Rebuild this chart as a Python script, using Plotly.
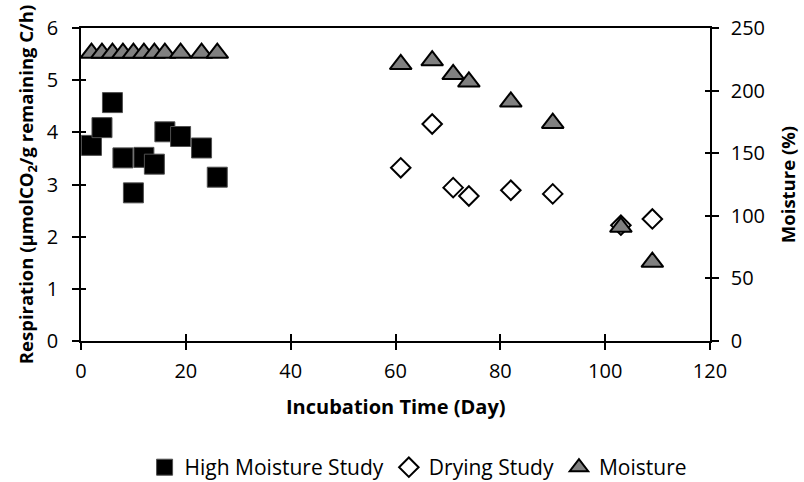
import plotly.graph_objects as go

hm_day = [2, 4, 6, 8, 10, 12, 14, 16, 19, 23, 26]
hm_resp = [3.75, 4.09, 4.57, 3.51, 2.84, 3.52, 3.39, 4.01, 3.92, 3.70, 3.14]

dry_day = [61, 67, 71, 74, 82, 90, 103, 109]
dry_resp = [3.32, 4.16, 2.94, 2.78, 2.89, 2.82, 2.22, 2.34]

moist_day = [2, 4, 6, 8, 10, 12, 14, 16, 19, 23, 26, 61, 67, 71, 74, 82, 90, 103, 109]
moist_pct = [230, 230, 230, 230, 230, 230, 230, 230, 230, 230, 230,
             221, 224, 213, 207, 191, 174, 91, 63]

x_ticks = [0, 20, 40, 60, 80, 100, 120]
y_ticks = [0, 1, 2, 3, 4, 5, 6]
y2_ticks = [0, 50, 100, 150, 200, 250]

x_title = "<b>Incubation Time (Day)</b>"
y_title = "<b>Respiration (µmolCO<sub>2</sub>/g remaining C/h)</b>"
y2_title = "<b>Moisture (%)</b>"

FONT = "Open Sans"
fs = 20
fs_legend = 21
fs_title = 20
fs_ytitle = 18.5

fig = go.Figure()
fig.add_trace(go.Scatter(
    x=hm_day, y=hm_resp, mode="markers", name="High Moisture Study",
    marker=dict(symbol="square", size=20, color="black",
                line=dict(color="#505050", width=1))))
fig.add_trace(go.Scatter(
    x=dry_day, y=dry_resp, mode="markers", name="Drying Study",
    marker=dict(symbol="diamond", size=15, color="white",
                line=dict(color="black", width=2))))
fig.add_trace(go.Scatter(
    x=moist_day, y=moist_pct, mode="markers", name="Moisture", yaxis="y2",
    marker=dict(symbol="triangle-up", size=19, color="#808080",
                line=dict(color="black", width=2))))
# empty helper traces for crossing ticks
fig.add_trace(go.Scatter(x=[], y=[], xaxis="x3", yaxis="y3", showlegend=False, hoverinfo="skip"))
fig.add_trace(go.Scatter(x=[], y=[], xaxis="x3", yaxis="y4", showlegend=False, hoverinfo="skip"))

axis_common = dict(showgrid=False, zeroline=False, linecolor="black", linewidth=1.5,
                   tickcolor="black", tickwidth=1.5, automargin=False,
                   tickfont=dict(family=FONT, size=fs, color="black"))

fig.update_layout(
    width=804, height=482,
    margin=dict(l=81, r=94, t=28, b=141),
    plot_bgcolor="white", paper_bgcolor="white",
    font=dict(family=FONT, size=fs, color="black"),
    showlegend=True,
    legend=dict(orientation="h", x=0.52, xref="container", xanchor="center",
                y=0.03, yref="container", yanchor="middle",
                font=dict(family=FONT, size=fs_legend, color="black"), itemwidth=30,
                traceorder="normal"),
    xaxis=dict(range=[0, 120], tickvals=x_ticks, ticks="outside", ticklen=7,
               ticklabelstandoff=4, showline=True, mirror=True, **axis_common),
    yaxis=dict(range=[0, 6], tickvals=y_ticks, ticks="outside", ticklen=7, showline=True,
               ticklabelstandoff=10,
               title=dict(text=y_title, font=dict(family=FONT, size=fs_ytitle), standoff=8),
               **axis_common),
    yaxis2=dict(range=[0, 250], tickvals=y2_ticks, ticks="outside", ticklen=7, showline=True,
                overlaying="y", side="right", anchor="x", ticklabelstandoff=8,
                title=dict(text=y2_title, font=dict(family=FONT, size=fs_ytitle), standoff=18),
                **axis_common),
    xaxis3=dict(range=[0, 120], tickvals=x_ticks, ticks="inside", ticklen=7, overlaying="x",
                anchor="y3", showticklabels=False, showline=False, showgrid=False, zeroline=False,
                tickcolor="black", tickwidth=1.5),
    yaxis3=dict(range=[0, 6], tickvals=y_ticks, ticks="inside", ticklen=5, overlaying="y",
                anchor="x3", side="left", showticklabels=False, showline=False, showgrid=False,
                zeroline=False, tickcolor="black", tickwidth=1.5),
    yaxis4=dict(range=[0, 250], tickvals=y2_ticks, ticks="inside", ticklen=5, overlaying="y",
                anchor="x3", side="right", showticklabels=False, showline=False, showgrid=False,
                zeroline=False, tickcolor="black", tickwidth=1.5),
    annotations=[dict(text=x_title, xref="paper", yref="paper", x=0.5, y=-0.21,
                      xanchor="center", yanchor="middle", showarrow=False,
                      font=dict(family=FONT, size=fs_title, color="black"))],
)

fig.write_html("out.html")
